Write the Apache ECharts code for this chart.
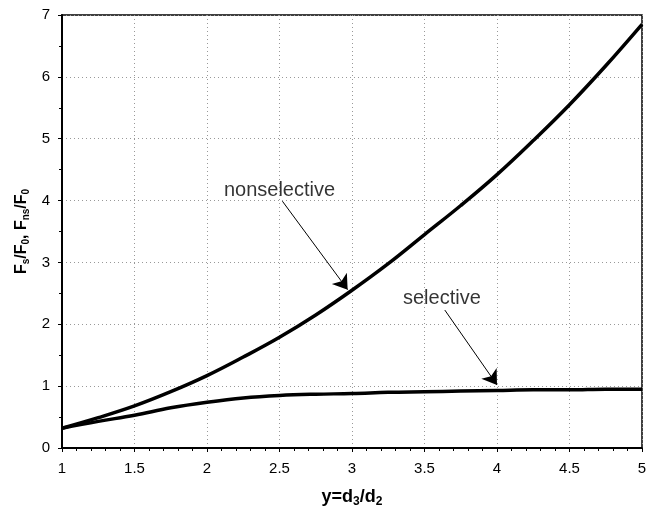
<!DOCTYPE html>
<html>
<head>
<meta charset="utf-8">
<script src="https://cdn.jsdelivr.net/npm/echarts@6/dist/echarts.min.js"></script>
<style>
  html, body { margin: 0; padding: 0; background: #fff; }
  #chart { width: 650px; height: 508px; }
</style>
</head>
<body>
<div id="chart"></div>
<script>
// values
const xValues = [1, 1.25, 1.5, 1.75, 2, 2.25, 2.5, 2.75, 3, 3.25, 3.5, 3.75, 4, 4.25, 4.5, 4.75, 5]
const nonselective = [0.32, 0.49, 0.68, 0.91, 1.17, 1.47, 1.79, 2.15, 2.55, 2.98, 3.45, 3.92, 4.42, 4.97, 5.55, 6.18, 6.85]
const selective = [0.32, 0.43, 0.53, 0.65, 0.74, 0.81, 0.85, 0.87, 0.88, 0.9, 0.91, 0.92, 0.93, 0.94, 0.94, 0.95, 0.95]

// annotation text and arrow ends, in data units
const labels = [['nonselective', 2.5, 4.17], ['selective', 3.62, 2.42]]
const arrows = [
  [[2.52, 3.99], [2.97, 2.56]],
  [[3.64, 2.23], [4.0, 1.02]]
]

const font = '"Liberation Sans", Arial, sans-serif'

function pairs(xs, ys) {
  return xs.map((x, i) => [x, ys[i]])
}

function nameStyle(size) {
  return {
    rich: {
      b: { fontFamily: font, fontSize: size, fontWeight: 'bold', color: '#000' },
      s: { fontFamily: font, fontSize: Math.round(size * 0.65), fontWeight: 'bold', color: '#000', padding: [Math.round(size * 0.55), 0, 0, 0] }
    }
  }
}

const chart = echarts.init(document.getElementById('chart'))

chart.setOption({
  animation: false,
  grid: {
    left: 62,
    right: 8,
    top: 15,
    bottom: 60,
    outerBoundsMode: 'none',
    containLabel: false,
    show: true,
    borderColor: '#000',
    borderWidth: 1.5
  },
  xAxis: {
    type: 'value',
    min: 1,
    max: 5,
    interval: 0.5,
    name: '{b|y=d}{s|3}{b|/d}{s|2}',
    nameLocation: 'middle',
    nameGap: 38,
    nameTextStyle: nameStyle(18),
    axisLine: { lineStyle: { color: '#000', width: 2 } },
    axisTick: { show: true, length: 4, lineStyle: { color: '#000' } },
    minorTick: { show: true, splitNumber: 5, length: 3, lineStyle: { color: '#000' } },
    axisLabel: { fontFamily: font, fontSize: 15, color: '#000', margin: 13 },
    splitLine: { show: true, lineStyle: { color: '#999', type: [1, 3] } }
  },
  yAxis: {
    type: 'value',
    min: 0,
    max: 7,
    interval: 1,
    name: '{b|F}{s|s}{b|/F}{s|0}{b|, F}{s|ns}{b|/F}{s|0}',
    nameLocation: 'middle',
    nameRotate: 90,
    nameGap: 30,
    nameTextStyle: nameStyle(16),
    axisLine: { show: true, lineStyle: { color: '#000', width: 2 } },
    axisTick: { show: true, length: 4, lineStyle: { color: '#000' } },
    minorTick: { show: true, splitNumber: 2, length: 3, lineStyle: { color: '#000' } },
    axisLabel: { fontFamily: font, fontSize: 15, color: '#000', margin: 12 },
    splitLine: { show: true, lineStyle: { color: '#999', type: [1, 3] } }
  },
  series: [
    {
      name: 'nonselective',
      type: 'line',
      data: pairs(xValues, nonselective),
      smooth: 0.4,
      showSymbol: false,
      lineStyle: { color: '#000', width: 3.5 },
      z: 3
    },
    {
      name: 'selective',
      type: 'line',
      data: pairs(xValues, selective),
      smooth: 0.4,
      showSymbol: false,
      lineStyle: { color: '#000', width: 3.5 },
      z: 3
    },
    {
      type: 'lines',
      coordinateSystem: 'cartesian2d',
      symbol: ['none', 'arrow'],
      symbolSize: 14,
      lineStyle: { color: '#000', width: 1, opacity: 1 },
      data: arrows.map(a => ({ coords: a })),
      z: 4
    },
    {
      type: 'scatter',
      symbolSize: 0,
      data: labels.map(l => ({ name: l[0], value: [l[1], l[2]] })),
      label: {
        show: true,
        position: 'inside',
        formatter: '{b}',
        fontFamily: font,
        fontSize: 20,
        color: '#000'
      },
      z: 5
    }
  ]
})
</script>
</body>
</html>
